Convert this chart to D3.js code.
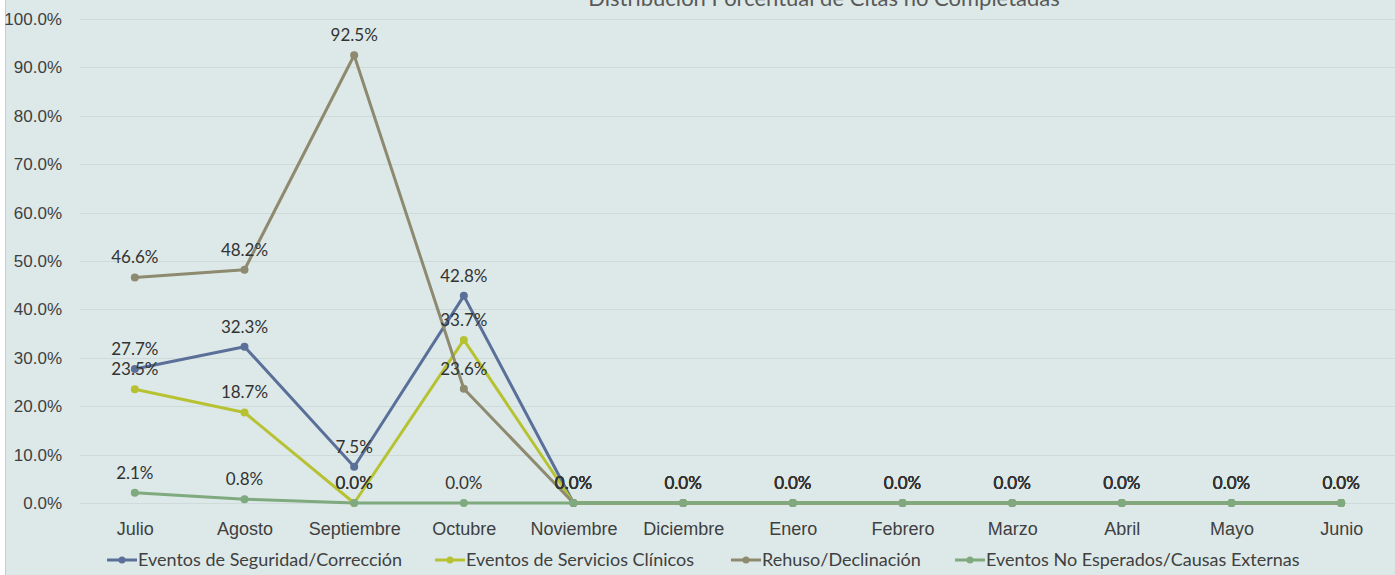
<!DOCTYPE html>
<html>
<head>
<meta charset="utf-8">
<script src="https://cdn.jsdelivr.net/npm/d3@7"></script>
<style>
  body { margin: 0; background: #ffffff; }
  svg { display: block; font-family: Lato, "Open Sans", sans-serif; }
  .grid line { stroke: #cfdada; stroke-width: 1; }
  .axis text { fill: #404040; }
</style>
</head>
<body>
<div class="wrapper"></div>
<script>
// data
var months = ["Julio", "Agosto", "Septiembre", "Octubre", "Noviembre", "Diciembre",
              "Enero", "Febrero", "Marzo", "Abril", "Mayo", "Junio"];
var seguridad  = [27.7, 32.3, 7.5, 42.8, 0, 0, 0, 0, 0, 0, 0, 0];
var clinicos   = [23.5, 18.7, 0.0, 33.7, 0, 0, 0, 0, 0, 0, 0, 0];
var rehuso     = [46.6, 48.2, 92.5, 23.6, 0, 0, 0, 0, 0, 0, 0, 0];
var noEsperado = [2.1, 0.8, 0.0, 0.0, 0, 0, 0, 0, 0, 0, 0, 0];
var seriesNames = ["Eventos de Seguridad/Corrección", "Eventos de Servicios Clínicos",
                   "Rehuso/Declinación", "Eventos No Esperados/Causas Externas"];
var yTicks = [0, 10, 20, 30, 40, 50, 60, 70, 80, 90, 100];

var series = [
    {name: seriesNames[0], values: seguridad,  color: "#5b7099"},
    {name: seriesNames[1], values: clinicos,   color: "#b7c233"},
    {name: seriesNames[2], values: rehuso,     color: "#8d8a6f"},
    {name: seriesNames[3], values: noEsperado, color: "#7fa97e"}
];

var width = 1395, height = 575;

var svg = d3.select(".wrapper").append("svg")
    .attr("width", width)
    .attr("height", height);

// chart area background + left border
svg.append("rect")
    .attr("x", 6).attr("y", 0)
    .attr("width", width - 6).attr("height", height)
    .attr("fill", "#dde9e8");
svg.append("line")
    .attr("x1", 5.5).attr("x2", 5.5).attr("y1", 0).attr("y2", height)
    .attr("stroke", "#c4cccc");

var x = d3.scalePoint()
    .domain(months)
    .range([80, 1396])
    .padding(0.5);

var y = d3.scaleLinear()
    .domain([0, 100])
    .range([503, 19]);

// gridlines
svg.append("g").attr("class", "grid")
    .selectAll("line")
    .data(yTicks)
    .enter().append("line")
    .attr("x1", 80).attr("x2", width)
    .attr("y1", function(d) { return Math.round(y(d)) + 0.5; })
    .attr("y2", function(d) { return Math.round(y(d)) + 0.5; });

// y axis labels
var yAxis = svg.append("g").attr("class", "axis")
    .attr("transform", "translate(62,0)")
    .call(d3.axisLeft(y).tickValues(yTicks).tickSize(0).tickPadding(0)
        .tickFormat(function(d) { return d.toFixed(1) + "%"; }));
yAxis.select(".domain").remove();
yAxis.selectAll("text").attr("font-size", "17px");

// x axis labels
var xAxis = svg.append("g").attr("class", "axis")
    .attr("transform", "translate(0,522)")
    .call(d3.axisBottom(x).tickSize(0).tickPadding(0));
xAxis.select(".domain").remove();
xAxis.selectAll("text").attr("font-size", "18px");

var line = d3.line()
    .x(function(d, i) { return x(months[i]); })
    .y(function(d) { return y(d); });

// lines, in series order (green ends up on top)
var groups = svg.selectAll(".series")
    .data(series)
    .enter().append("g")
    .attr("class", "series");

groups.append("path")
    .attr("d", function(d) { return line(d.values); })
    .attr("fill", "none")
    .attr("stroke", function(d) { return d.color; })
    .attr("stroke-width", 3)
    .attr("stroke-linejoin", "round");

groups.selectAll("circle")
    .data(function(d) { return d.values.map(function(v) { return {v: v, color: d.color}; }); })
    .enter().append("circle")
    .attr("cx", function(d, i) { return x(months[i]); })
    .attr("cy", function(d) { return y(d.v); })
    .attr("r", 4)
    .attr("fill", function(d) { return d.color; });

// data labels
svg.append("g").selectAll("g")
    .data(series)
    .enter().append("g")
    .selectAll("text")
    .data(function(d) { return d.values; })
    .enter().append("text")
    .attr("x", function(d, i) { return x(months[i]); })
    .attr("y", function(d) { return y(d) - 14; })
    .attr("text-anchor", "middle")
    .attr("fill", "#333333")
    .attr("font-size", "17px")
    .text(function(d) { return d.toFixed(1) + "%"; });

// title (top is cropped in the original)
svg.append("text")
    .attr("x", 824).attr("y", 6)
    .attr("text-anchor", "middle")
    .attr("fill", "#595959")
    .attr("font-size", "22px")
    .text("Distribución Porcentual de Citas no Completadas");

// legend
var legendX = [107, 435, 731, 955];
var legend = svg.append("g").selectAll("g")
    .data(series)
    .enter().append("g")
    .attr("transform", function(d, i) { return "translate(" + legendX[i] + ",560)"; });

legend.append("line")
    .attr("x1", 0).attr("x2", 30).attr("y1", 0).attr("y2", 0)
    .attr("stroke", function(d) { return d.color; })
    .attr("stroke-width", 3);
legend.append("circle")
    .attr("cx", 15).attr("cy", 0).attr("r", 3.5)
    .attr("fill", function(d) { return d.color; });
legend.append("text")
    .attr("x", 31).attr("y", 0)
    .attr("dy", "0.35em")
    .attr("fill", "#404040")
    .attr("font-size", "18px")
    .text(function(d) { return d.name; });
</script>
</body>
</html>
